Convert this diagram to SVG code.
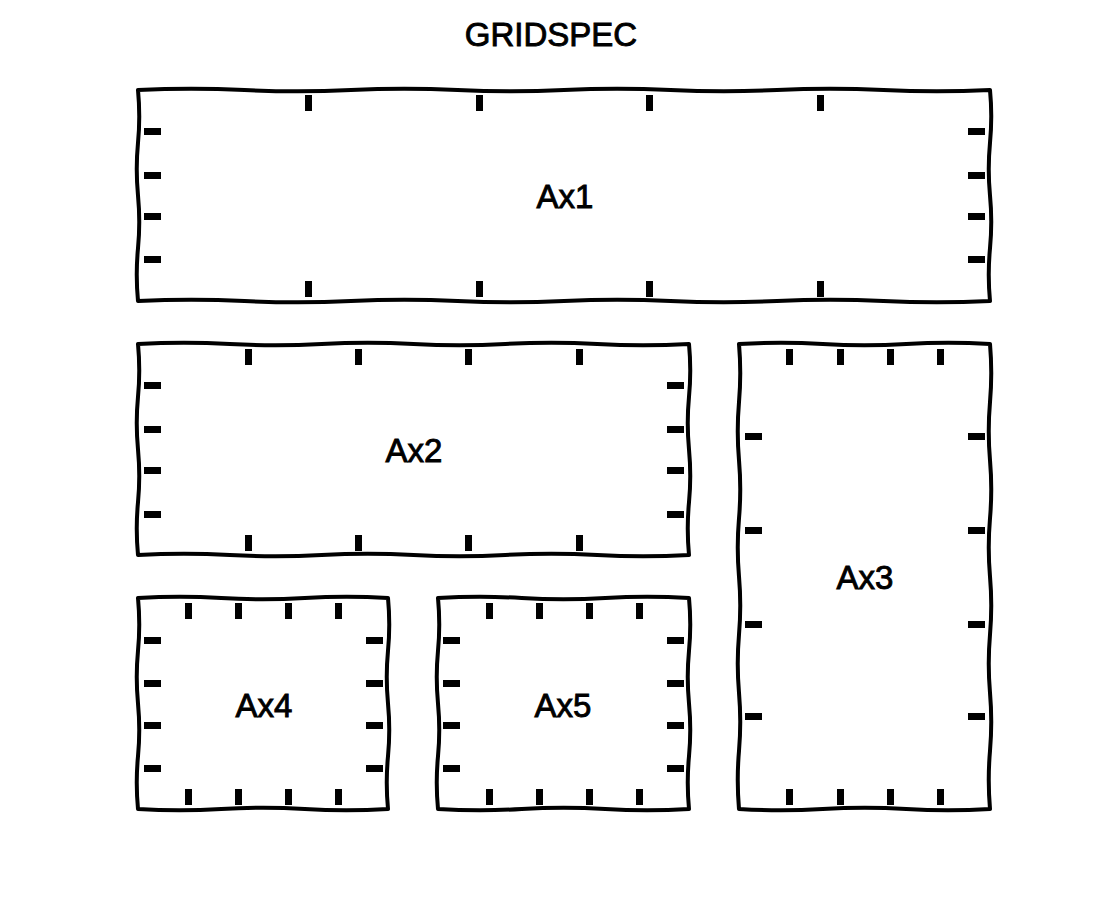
<svg xmlns="http://www.w3.org/2000/svg" xmlns:xlink="http://www.w3.org/1999/xlink" width="1100" height="900" viewBox="0 0 1100 900">
<style>
.sp{fill:none;stroke:#000;stroke-width:4;stroke-linejoin:round;stroke-linecap:round}
.lbl{font-family:"Liberation Sans","DejaVu Sans",sans-serif;font-size:33px;fill:#000;stroke:#000;stroke-width:0.9;text-anchor:middle}
</style>
<defs>
<rect id="tv" width="7" height="16" fill="#000"/>
<rect id="th" width="17" height="7" fill="#000"/>
</defs>
<rect width="1100" height="900" fill="#fff"/>
<text class="lbl" x="551" y="46">GRIDSPEC</text>
<g id="ax1">
<path class="sp" d="M138,90 Q191,87.5 244.5,90 T351,90 T457.5,90 T564,90 T670.5,90 T777,90 T883.5,90 T990,90 Q992.5,116 990,142.75 T990,195.5 T990,248.25 T990,301 Q936.75,303.5 883.5,301 T777,301 T670.5,301 T564,301 T457.5,301 T351,301 T244.5,301 T138,301 Q135.5,274.6 138,248.25 T138,195.5 T138,142.75 T138,90 Z"/>
<use href="#tv" x="305" y="95"/><use href="#tv" x="476" y="95"/><use href="#tv" x="646" y="95"/><use href="#tv" x="817" y="95"/>
<use href="#tv" x="305" y="281"/><use href="#tv" x="476" y="281"/><use href="#tv" x="646" y="281"/><use href="#tv" x="817" y="281"/>
<use href="#th" x="144" y="128"/><use href="#th" x="144" y="172"/><use href="#th" x="144" y="213"/><use href="#th" x="144" y="256"/>
<use href="#th" x="968" y="128"/><use href="#th" x="968" y="172"/><use href="#th" x="968" y="213"/><use href="#th" x="968" y="256"/>
<text class="lbl" x="565" y="208">Ax1</text>
</g>
<g id="ax2">
<path class="sp" d="M138,344 Q184,341.5 229.8,344 T321.7,344 T413.5,344 T505.3,344 T597.2,344 T689,344 Q691.5,370.4 689,396.75 T689,449.5 T689,502.25 T689,555 Q643,557.5 597.2,555 T505.3,555 T413.5,555 T321.7,555 T229.8,555 T138,555 Q135.5,528.6 138,502.25 T138,449.5 T138,396.75 T138,344 Z"/>
<use href="#tv" x="245" y="349"/><use href="#tv" x="355" y="349"/><use href="#tv" x="465" y="349"/><use href="#tv" x="576" y="349"/>
<use href="#tv" x="245" y="535"/><use href="#tv" x="355" y="535"/><use href="#tv" x="465" y="535"/><use href="#tv" x="576" y="535"/>
<use href="#th" x="144" y="382"/><use href="#th" x="144" y="426"/><use href="#th" x="144" y="467"/><use href="#th" x="144" y="511"/>
<use href="#th" x="667" y="382"/><use href="#th" x="667" y="426"/><use href="#th" x="667" y="467"/><use href="#th" x="667" y="511"/>
<text class="lbl" x="414" y="462">Ax2</text>
</g>
<g id="ax3">
<path class="sp" d="M739,344 Q781,341.5 822.7,344 T906.3,344 T990,344 Q992.5,373 990,402.1 T990,460.25 T990,518.4 T990,576.5 T990,634.6 T990,692.75 T990,750.9 T990,809 Q948,811.5 906.3,809 T822.7,809 T739,809 Q736.5,780 739,750.9 T739,692.75 T739,634.6 T739,576.5 T739,518.4 T739,460.25 T739,402.1 T739,344 Z"/>
<use href="#tv" x="786" y="349"/><use href="#tv" x="837" y="349"/><use href="#tv" x="887" y="349"/><use href="#tv" x="937" y="349"/>
<use href="#tv" x="786" y="789"/><use href="#tv" x="837" y="789"/><use href="#tv" x="887" y="789"/><use href="#tv" x="937" y="789"/>
<use href="#th" x="745" y="433"/><use href="#th" x="745" y="527"/><use href="#th" x="745" y="621"/><use href="#th" x="745" y="713"/>
<use href="#th" x="968" y="433"/><use href="#th" x="968" y="527"/><use href="#th" x="968" y="621"/><use href="#th" x="968" y="713"/>
<text class="lbl" x="865" y="589">Ax3</text>
</g>
<g id="ax4">
<path class="sp" d="M138,598 Q180,595.5 221.3,598 T304.7,598 T388,598 Q390.5,624.4 388,650.75 T388,703.5 T388,756.25 T388,809 Q346,811.5 304.7,809 T221.3,809 T138,809 Q135.5,782.6 138,756.25 T138,703.5 T138,650.75 T138,598 Z"/>
<use href="#tv" x="185" y="603"/><use href="#tv" x="235" y="603"/><use href="#tv" x="285" y="603"/><use href="#tv" x="335" y="603"/>
<use href="#tv" x="185" y="789"/><use href="#tv" x="235" y="789"/><use href="#tv" x="285" y="789"/><use href="#tv" x="335" y="789"/>
<use href="#th" x="144" y="637"/><use href="#th" x="144" y="680"/><use href="#th" x="144" y="722"/><use href="#th" x="144" y="765"/>
<use href="#th" x="366" y="637"/><use href="#th" x="366" y="680"/><use href="#th" x="366" y="722"/><use href="#th" x="366" y="765"/>
<text class="lbl" x="264" y="717">Ax4</text>
</g>
<g id="ax5">
<path class="sp" d="M438,598 Q480,595.5 521.7,598 T605.3,598 T689,598 Q691.5,624.4 689,650.75 T689,703.5 T689,756.25 T689,809 Q647,811.5 605.3,809 T521.7,809 T438,809 Q435.5,782.6 438,756.25 T438,703.5 T438,650.75 T438,598 Z"/>
<use href="#tv" x="486" y="603"/><use href="#tv" x="536" y="603"/><use href="#tv" x="586" y="603"/><use href="#tv" x="636" y="603"/>
<use href="#tv" x="486" y="789"/><use href="#tv" x="536" y="789"/><use href="#tv" x="586" y="789"/><use href="#tv" x="636" y="789"/>
<use href="#th" x="443" y="637"/><use href="#th" x="443" y="680"/><use href="#th" x="443" y="722"/><use href="#th" x="443" y="765"/>
<use href="#th" x="667" y="637"/><use href="#th" x="667" y="680"/><use href="#th" x="667" y="722"/><use href="#th" x="667" y="765"/>
<text class="lbl" x="563" y="717">Ax5</text>
</g>
<g id="connectors"/>
</svg>
